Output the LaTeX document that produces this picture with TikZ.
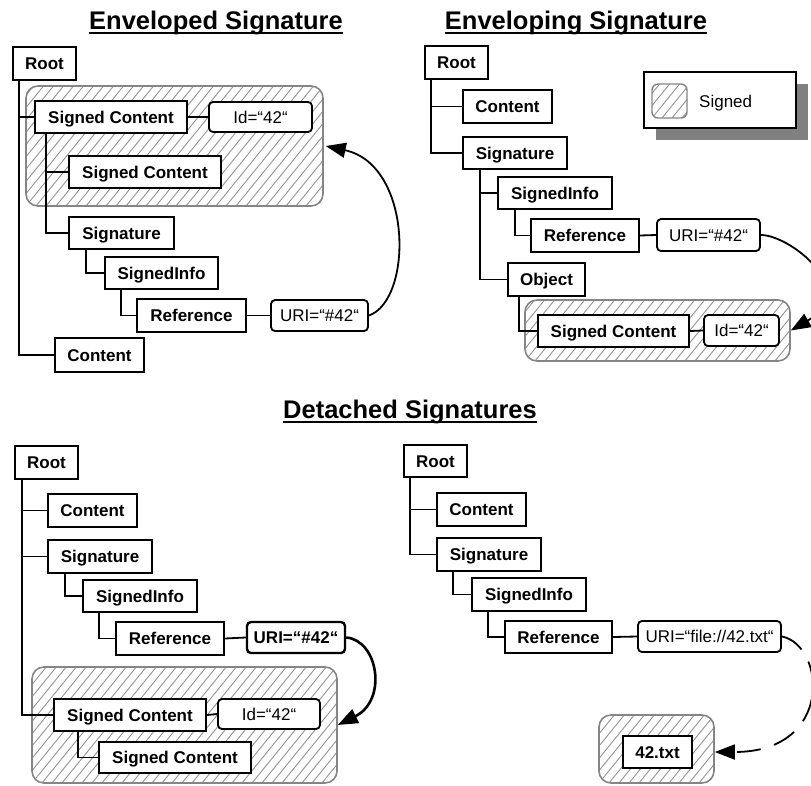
\documentclass[tikz,border=0pt]{standalone}
\usepackage{fontspec}
\setmainfont{Liberation Sans}
\usetikzlibrary{arrows.meta,shadows}
\definecolor{hatchgray}{gray}{0.58}
\definecolor{framegray}{gray}{0.52}
\definecolor{shadowgray}{gray}{0.5}

\begin{document}
\begin{tikzpicture}[x=1pt,y=-1pt,
  box/.style={draw, line width=1.8pt, fill=white, inner sep=0pt, minimum height=32pt,
    font=\fontsize{17}{20}\selectfont\bfseries, text height=12.2pt, text depth=0pt},
  attr/.style={box, rounded corners=4pt, font=\fontsize{17}{20}\selectfont},
  signed/.style={draw=framegray, line width=1.6pt, rounded corners=12pt, inner sep=0pt,
    path picture={\foreach \k in {-15,-14,...,35}
      \draw[hatchgray, line width=0.9pt, sharp corners]
        ([xshift=\k*10pt]path picture bounding box.south west) -- ++(130pt,160pt);}},
  tree/.style={line width=1.8pt},
  refarrow/.style={line width=1.8pt, -{Triangle[length=20pt,width=15pt]}},
  heading/.style={font=\fontsize{25.5}{30}\selectfont\bfseries, inner sep=0pt, anchor=base},
  underline/.style={line width=2pt},
]
\clip (0,0) rectangle (811,785);

% ---------- headings ----------
\node[heading] (h1) at (216,29) {Enveloped Signature};
\node[heading] (h2) at (576,29) {Enveloping Signature};
\node[heading] (h3) at (410,418) {Detached Signatures};
\foreach \h in {h1,h2,h3}
  \draw[underline] ([yshift=-4pt]\h.base west) -- ([yshift=-4pt]\h.base east);

% ---------- enveloped signature ----------
\node[signed, minimum width=297pt, minimum height=120pt] (sa1) at (174.5,146) {};
\node[box, minimum width=63pt, minimum height=33pt] (r1) at (44.5,63.5) {Root};
\node[box, minimum width=152pt] (sc1a) at (111,117) {Signed Content};
\node[attr, minimum width=103pt, minimum height=30pt] (id1) at (260.5,117) {Id=“42“};
\node[box, minimum width=152pt] (sc1b) at (145,172) {Signed Content};
\node[box, minimum width=105pt] (sig1) at (121.5,233) {Signature};
\node[box, minimum width=113pt] (si1) at (161.5,273) {SignedInfo};
\node[box, minimum width=109pt, minimum height=33pt] (ref1) at (191.5,315.5) {Reference};
\node[attr, minimum width=97pt, minimum height=31pt] (uri1) at (319.5,315.5) {URI=“\#42“};
\node[box, minimum width=89pt, minimum height=34pt] (con1) at (99.5,355) {Content};

\draw[tree] ([xshift=7pt]r1.south west) |- (sc1a.west);
\draw[tree] ([xshift=7pt]r1.south west) |- (con1.west);
\draw[tree] ([xshift=12pt]sc1a.south west) |- (sc1b.west);
\draw[tree] ([xshift=12pt]sc1a.south west) |- (sig1.west);
\draw[tree] ([xshift=18pt]sig1.south west) |- (si1.west);
\draw[tree] ([xshift=17pt]si1.south west) |- (ref1.west);
\draw[tree] (sc1a.east) -- (id1.west);
\draw[tree] (ref1.east) -- (uri1.west);
\draw[refarrow] (uri1.east) .. controls (413,300) and (413,165) .. ([xshift=2pt]sa1.east);

% ---------- enveloping signature ----------
\node[signed, minimum width=265pt, minimum height=61pt] (sa2) at (657.5,330.5) {};
\node[box, minimum width=63pt, minimum height=33pt] (r2) at (456.5,62.5) {Root};
\node[box, minimum width=89pt, minimum height=33pt] (con2) at (507.5,106.5) {Content};
\node[box, minimum width=104pt] (sig2) at (515,153) {Signature};
\node[box, minimum width=114pt] (si2) at (555,193) {SignedInfo};
\node[box, minimum width=108pt, minimum height=33pt] (ref2) at (585,235.5) {Reference};
\node[attr, minimum width=103pt, minimum height=32pt] (uri2) at (708.5,235) {URI=“\#42“};
\node[box, minimum width=77pt, minimum height=33pt] (obj2) at (546.5,279.5) {Object};
\node[box, minimum width=151pt] (sc2) at (613.5,331) {Signed Content};
\node[attr, minimum width=75pt, minimum height=31pt] (id2) at (741.5,330.5) {Id=“42“};

\draw[tree] ([xshift=7pt]r2.south west) |- (con2.west);
\draw[tree] ([xshift=7pt]r2.south west) |- (sig2.west);
\draw[tree] ([xshift=18pt]sig2.south west) |- (si2.west);
\draw[tree] ([xshift=18pt]sig2.south west) |- (obj2.west);
\draw[tree] ([xshift=18pt]si2.south west) |- (ref2.west);
\draw[tree] ([xshift=12pt]obj2.south west) |- (sc2.west);
\draw[tree] (ref2.east) -- (uri2.west);
\draw[tree] (sc2.east) -- (id2.west);
\draw[refarrow] (uri2.east) .. controls (790,235) and (860,290) .. (sa2.east);

% legend
\node[draw, line width=1.8pt, fill=white, minimum width=152pt, minimum height=56pt, inner sep=0pt,
  general shadow={fill=shadowgray, shadow xshift=12pt, shadow yshift=-12pt}] (legend) at (720,100) {};
\node[signed, rounded corners=6pt, line width=1.4pt, minimum width=35pt, minimum height=34pt] (swatch) at (669.5,101) {};
\node[anchor=west, inner sep=0pt, font=\fontsize{17}{20}\selectfont, text height=12.2pt, text depth=0pt] (legtext) at (699,101) {Signed};

% ---------- detached signature, same document ----------
\node[signed, minimum width=305pt, minimum height=116pt] (sa3) at (184.5,725) {};
\node[box, minimum width=63pt, minimum height=33pt] (r3) at (46.5,462.5) {Root};
\node[box, minimum width=89pt, minimum height=33pt] (con3) at (92.5,510.5) {Content};
\node[box, minimum width=104pt, minimum height=33pt] (sig3) at (100,556.5) {Signature};
\node[box, minimum width=114pt] (si3) at (140,596) {SignedInfo};
\node[box, minimum width=108pt, minimum height=33pt] (ref3) at (170,638.5) {Reference};
\node[attr, line width=2.4pt, font=\fontsize{17}{20}\selectfont\bfseries, minimum width=98pt, minimum height=31pt] (uri3) at (296,637.5) {URI=“\#42“};
\node[box, minimum width=152pt] (sc3a) at (130,715) {Signed Content};
\node[attr, minimum width=102pt, minimum height=30pt] (id3) at (269,714) {Id=“42“};
\node[box, minimum width=152pt, minimum height=31pt] (sc3b) at (175,757.5) {Signed Content};

\draw[tree] ([xshift=8pt]r3.south west) |- (con3.west);
\draw[tree] ([xshift=8pt]r3.south west) |- (sig3.west);
\draw[tree] ([xshift=8pt]r3.south west) |- (sc3a.west);
\draw[tree] ([xshift=18pt]sig3.south west) |- (si3.west);
\draw[tree] ([xshift=17pt]si3.south west) |- (ref3.west);
\draw[tree] ([xshift=25pt]sc3a.south west) |- (sc3b.west);
\draw[tree] (ref3.east) -- (uri3.west);
\draw[tree] (sc3a.east) -- (id3.west);
\draw[refarrow, line width=2.6pt] (uri3.east) .. controls (378,640) and (388,700) .. (sa3.east);

% ---------- detached signature, external file ----------
\node[signed, minimum width=115pt, minimum height=68pt] (sa4) at (656.5,749) {};
\node[box, minimum width=63pt] (r4) at (435.5,461) {Root};
\node[box, minimum width=89pt, minimum height=33pt] (con4) at (481.5,509.5) {Content};
\node[box, minimum width=104pt, minimum height=33pt] (sig4) at (489,554.5) {Signature};
\node[box, minimum width=114pt, minimum height=33pt] (si4) at (529,594.5) {SignedInfo};
\node[box, minimum width=107pt] (ref4) at (558.5,637) {Reference};
\node[attr, minimum width=143pt, minimum height=31pt] (uri4) at (709.5,636.5) {URI=“file://42.txt“};
\node[box, minimum width=69pt] (txt4) at (657.5,752) {42.txt};

\draw[tree] ([xshift=7pt]r4.south west) |- (con4.west);
\draw[tree] ([xshift=7pt]r4.south west) |- (sig4.west);
\draw[tree] ([xshift=17pt]sig4.south west) |- (si4.west);
\draw[tree] ([xshift=17pt]si4.south west) |- (ref4.west);
\draw[tree] (ref4.east) -- (uri4.west);
\draw[refarrow, dash pattern=on 24pt off 14pt] (uri4.east) .. controls (825,645) and (835,752) .. ([yshift=-3pt]sa4.east);
\end{tikzpicture}
\end{document}
